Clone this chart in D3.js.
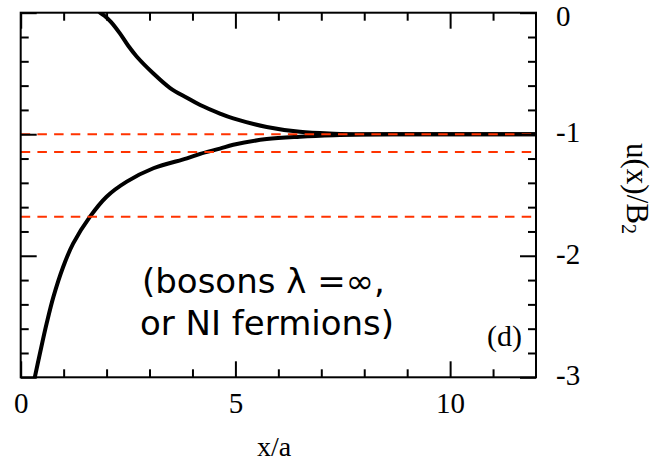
<!DOCTYPE html>
<html>
<head>
<meta charset="utf-8">
<script src="https://cdn.jsdelivr.net/npm/d3@7"></script>
<style>
  html, body { margin: 0; padding: 0; background: #fff; }
  svg { display: block; }
</style>
</head>
<body>
<svg id="chart" width="660" height="461"></svg>
<script>
// ---- data ----
const upperX = [1.78, 1.85, 1.95, 2.10, 2.31, 2.50, 2.70, 3.09, 3.48, 3.87, 4.18, 4.64, 4.95, 5.73, 6.50, 7.30, 8.00, 9.00, 10.00, 11.00, 12.00];
const upperY = [0.03, 0.00, -0.025, -0.075, -0.17, -0.27, -0.36, -0.50, -0.62, -0.70, -0.76, -0.83, -0.87, -0.94, -0.98, -0.995, -1.0, -1.0, -1.0, -1.0, -1.0];
const lowerX = [0.31, 0.45, 0.605, 0.76, 0.99, 1.22, 1.61, 2.00, 2.47, 3.09, 3.87, 4.18, 4.64, 4.95, 5.73, 6.50, 7.30, 8.00, 9.00, 10.00, 12.00];
const lowerY = [-3.03, -2.80, -2.556, -2.34, -2.09, -1.90, -1.68, -1.514, -1.39, -1.28, -1.198, -1.161, -1.118, -1.087, -1.040, -1.020, -1.008, -1.003, -1.0, -1.0, -1.0];
const refLevels = [-1.0, -1.146, -1.679];
const xMajorTicks = [0, 5, 10];
const xMinorTicks = [1, 2, 3, 4, 6, 7, 8, 9, 11];
const yMajorTicks = [0, -1, -2, -3];
const yMinorTicks = [-0.2, -0.4, -0.6, -0.8, -1.2, -1.4, -1.6, -1.8, -2.2, -2.4, -2.6, -2.8];
const xTitle = "x/a";
const yTitleMain = "u(x)/B";
const yTitleSub = "2";
const noteLine1 = "(bosons  λ =∞,";
const noteLine2 = "or NI fermions)";
const panelLabel = "(d)";

// ---- layout ----
const L = 20.7, R = 536, T = 12.7, B = 377.3;
const svg = d3.select("#chart");
const x = d3.scaleLinear().domain([0, 12]).range([L, R]);
const y = d3.scaleLinear().domain([-3, 0]).range([B, T]);
const serif = "'Liberation Serif', 'Times New Roman', serif";
const fmt = d => String(d); // plain hyphen-minus like the reference

svg.append("defs").append("clipPath").attr("id", "plotclip")
  .append("rect").attr("x", L).attr("y", T).attr("width", R - L).attr("height", B - T);

const line = d3.line().x(d => x(d[0])).y(d => y(d[1])).curve(d3.curveCatmullRom.alpha(0.5));
const upper = upperX.map((v, i) => [v, upperY[i]]);
const lower = lowerX.map((v, i) => [v, lowerY[i]]);

const g = svg.append("g").attr("clip-path", "url(#plotclip)");
g.append("path").datum(upper).attr("d", line)
  .attr("fill", "none").attr("stroke", "#000").attr("stroke-width", 4);
g.append("path").datum(lower).attr("d", line)
  .attr("fill", "none").attr("stroke", "#000").attr("stroke-width", 4);

g.selectAll("line.ref").data(refLevels).enter().append("line")
  .attr("class", "ref")
  .attr("x1", L).attr("x2", R)
  .attr("y1", d => y(d)).attr("y2", d => y(d))
  .attr("stroke", "#ff3300").attr("stroke-width", 2)
  .attr("stroke-dasharray", "9.5,7.2");

// ---- axes ----
function styleAxis(sel) {
  sel.select(".domain").remove();
  sel.selectAll(".tick line").attr("stroke", "#000").attr("stroke-width", 2);
  sel.selectAll(".tick text").attr("fill", "#000").attr("font-family", serif).attr("font-size", 29);
}
// bottom
svg.append("g").attr("transform", `translate(0,${B})`)
  .call(d3.axisBottom(x).tickValues(xMinorTicks).tickSize(-8).tickFormat(""))
  .call(styleAxis);
svg.append("g").attr("transform", `translate(0,${B})`)
  .call(d3.axisBottom(x).tickValues(xMajorTicks).tickSize(-16).tickPadding(15).tickFormat(fmt))
  .call(styleAxis);
// top
svg.append("g").attr("transform", `translate(0,${T})`)
  .call(d3.axisTop(x).tickValues(xMinorTicks).tickSize(-8).tickFormat(""))
  .call(styleAxis);
svg.append("g").attr("transform", `translate(0,${T})`)
  .call(d3.axisTop(x).tickValues(xMajorTicks).tickSize(-16).tickFormat(""))
  .call(styleAxis);
// left
svg.append("g").attr("transform", `translate(${L},0)`)
  .call(d3.axisLeft(y).tickValues(yMinorTicks).tickSize(-8).tickFormat(""))
  .call(styleAxis);
svg.append("g").attr("transform", `translate(${L},0)`)
  .call(d3.axisLeft(y).tickValues(yMajorTicks).tickSize(-16).tickFormat(""))
  .call(styleAxis);
// right
svg.append("g").attr("transform", `translate(${R},0)`)
  .call(d3.axisRight(y).tickValues(yMinorTicks).tickSize(-8).tickFormat(""))
  .call(styleAxis);
const yr = svg.append("g").attr("transform", `translate(${R},0)`)
  .call(d3.axisRight(y).tickValues(yMajorTicks).tickSize(-16).tickPadding(20).tickFormat(fmt))
  .call(styleAxis);
yr.selectAll(".tick text").attr("dy", d => d === 0 ? "0.45em" : "0.25em");

// frame
svg.append("rect").attr("x", L).attr("y", T).attr("width", R - L).attr("height", B - T)
  .attr("fill", "none").attr("stroke", "#000").attr("stroke-width", 2);

// titles
svg.append("text").attr("x", 274).attr("y", 456).attr("text-anchor", "middle")
  .attr("font-family", serif).attr("font-size", 28).text(xTitle);

const yt = svg.append("text").attr("transform", "translate(627,143) rotate(90)")
  .attr("font-family", serif).attr("font-size", 31);
yt.append("tspan").text(yTitleMain);
yt.append("tspan").attr("font-size", 20).attr("dy", 5).text(yTitleSub);

// annotation
const sans = "'DejaVu Sans', sans-serif";
svg.append("text").attr("x", 142).attr("y", 293).attr("font-family", sans).attr("font-size", 34)
  .attr("fill", "#000").text(noteLine1);
svg.append("text").attr("x", 140).attr("y", 335).attr("font-family", sans).attr("font-size", 34)
  .attr("fill", "#000").text(noteLine2);

svg.append("text").attr("x", 522).attr("y", 346).attr("text-anchor", "end")
  .attr("font-family", serif).attr("font-size", 30).text(panelLabel);
</script>
</body>
</html>
